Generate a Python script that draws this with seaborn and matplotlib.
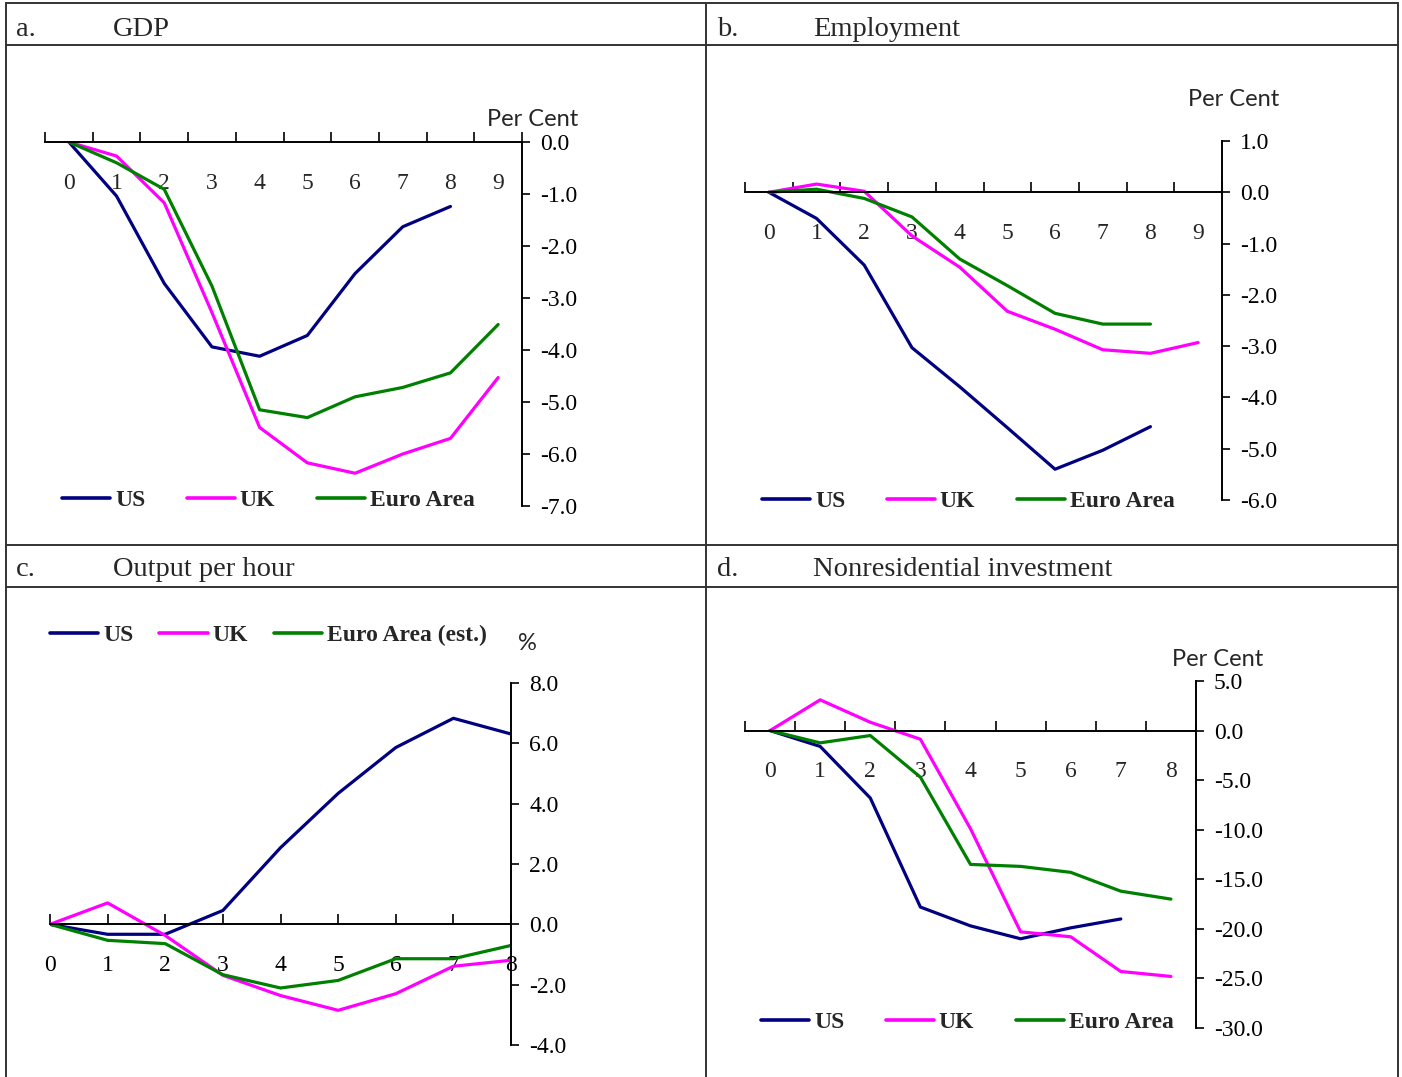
import matplotlib
matplotlib.use("Agg")
import matplotlib.pyplot as plt
from matplotlib.lines import Line2D
from matplotlib.ticker import FixedLocator, FormatStrFormatter
import seaborn as sns

# data
periods = list(range(10))
gdp_us = [0, -1.04, -2.72, -3.94, -4.12, -3.72, -2.53, -1.63, -1.24]
gdp_uk = [0, -0.27, -1.17, -3.28, -5.49, -6.17, -6.37, -6.0, -5.7, -4.53]
gdp_euro = [0, -0.40, -0.91, -2.77, -5.15, -5.30, -4.90, -4.72, -4.44, -3.51]

emp_us = [0, -0.51, -1.42, -3.03, -3.79, -4.59, -5.40, -5.03, -4.57]
emp_uk = [0, 0.16, 0.02, -0.85, -1.46, -2.32, -2.67, -3.07, -3.14, -2.93]
emp_euro = [0, 0.06, -0.12, -0.48, -1.30, -1.82, -2.36, -2.57, -2.57]

oph_us = [0, -0.33, -0.33, 0.46, 2.54, 4.34, 5.86, 6.83, 6.31]
oph_uk = [0, 0.71, -0.37, -1.69, -2.36, -2.85, -2.30, -1.39, -1.19]
oph_euro = [0, -0.53, -0.64, -1.67, -2.11, -1.86, -1.14, -1.14, -0.70]

inv_us = [0, -1.6, -6.8, -17.8, -19.7, -21.0, -19.9, -19.0]
inv_uk = [0, 3.1, 0.84, -0.87, -9.9, -20.3, -20.8, -24.3, -24.8]
inv_euro = [0, -1.24, -0.5, -4.7, -13.5, -13.7, -14.3, -16.2, -17.0]

colors = {"US": "#000080", "UK": "#FF00FF", "Euro": "#008000"}

sns.set_style("white")
plt.rcParams["axes.unicode_minus"] = False
SERIF = "Liberation Serif"
SANS = "Lato"

W, H = 1402, 1077
fig = plt.figure(figsize=(W / 100, H / 100), dpi=100)


def fx(px):
    return px / W


def fy(py):
    return 1 - py / H


# table borders
def hline(y, x0=6, x1=1398):
    fig.add_artist(Line2D([fx(x0), fx(x1)], [fy(y), fy(y)], color="#333333", lw=1.4))


def vline(x, y0=3, y1=1077):
    fig.add_artist(Line2D([fx(x), fx(x)], [fy(y0), fy(y1)], color="#333333", lw=1.4))


for y in [3, 45, 545, 587]:
    hline(y)
for x in [6, 706, 1398]:
    vline(x)

headers = [(16, 113, 36, "a.", "GDP"), (717, 813, 36, "b.", "Employment"),
           (16, 113, 576, "c.", "Output per hour"), (717, 813, 576, "d.", "Nonresidential investment")]
for xl, xt, yb, lab, title in headers:
    fig.text(fx(xl), fy(yb), lab, family=SERIF, fontsize=20.5, va="baseline")
    fig.text(fx(xt), fy(yb), title, family=SERIF, fontsize=20.5, va="baseline")


def make_panel(box, series, xlim, ylim, yticks, categorical, legend_pos, colspacing, labels):
    left, right, top, bottom = box
    ax = fig.add_axes([fx(left), fy(bottom), (right - left) / W, (bottom - top) / H])
    for (vals, key), lab in zip(series, labels):
        sns.lineplot(x=periods[:len(vals)], y=vals, color=colors[key], linewidth=2.3, ax=ax,
                     label=lab)
    ax.set_xlim(*xlim)
    ax.set_ylim(*ylim)
    for s in ["top", "left"]:
        ax.spines[s].set_visible(False)
    ax.spines["bottom"].set_position(("data", 0))
    ax.spines["bottom"].set_linewidth(1.4)
    ax.spines["right"].set_linewidth(1.4)
    ax.spines["bottom"].set_color("black")
    ax.spines["right"].set_color("black")
    ax.yaxis.tick_right()
    ax.set_yticks(yticks)
    ax.yaxis.set_major_formatter(FormatStrFormatter("%.1f"))
    ax.tick_params(axis="y", direction="out", length=6, width=1.2, pad=7, labelsize=17,
                   colors="black", right=True)
    n = int(round(xlim[1] - xlim[0]))
    if categorical:
        ax.xaxis.set_major_locator(FixedLocator([xlim[0] + i for i in range(n + 1)]))
        ax.xaxis.set_major_formatter(plt.NullFormatter())
        ax.set_xticks(periods[:n], minor=True)
        ax.set_xticklabels([str(p) for p in periods[:n]], minor=True)
        ax.tick_params(axis="x", which="major", direction="in", length=7, width=1.2,
                       bottom=True, colors="black")
        ax.tick_params(axis="x", which="minor", length=0, pad=22, labelsize=17, bottom=True)
    else:
        ax.set_xticks(periods[:n + 1])
        ax.tick_params(axis="x", direction="in", length=7, width=1.2, pad=22, labelsize=17,
                       bottom=True, colors="black")
    for t in ax.get_xticklabels(which="both") + ax.get_yticklabels():
        t.set_family(SERIF)
    ax.set_xlabel("")
    ax.set_ylabel("")
    ax.grid(False)
    handles = [Line2D([], [], color=colors[k], lw=2.6) for _, k in series]
    lx, ly = legend_pos
    ax.legend(handles, labels, ncol=3, frameon=False, loc="center left",
              bbox_to_anchor=(fx(lx), fy(ly)), bbox_transform=fig.transFigure,
              borderaxespad=0, borderpad=0, handlelength=2.05, handletextpad=0.2,
              columnspacing=colspacing,
              prop={"family": SERIF, "weight": "bold", "size": 17})
    return ax


make_panel((45, 522, 142, 506),
           [(gdp_us, "US"), (gdp_uk, "UK"), (gdp_euro, "Euro")],
           (-0.5, 9.5), (-7, 0), list(range(-7, 1)), True, (62, 500), 1.75,
           ["US", "UK", "Euro Area"])
make_panel((745, 1222, 141, 500),
           [(emp_us, "US"), (emp_uk, "UK"), (emp_euro, "Euro")],
           (-0.5, 9.5), (-6, 1), list(range(-6, 2)), True, (762, 501), 1.75,
           ["US", "UK", "Euro Area"])
make_panel((50, 511, 683, 1045),
           [(oph_us, "US"), (oph_uk, "UK"), (oph_euro, "Euro")],
           (0, 8), (-4, 8), list(range(-4, 9, 2)), False, (50, 635), 1.1,
           ["US", "UK", "Euro Area (est.)"])
make_panel((745, 1196, 681, 1028),
           [(inv_us, "US"), (inv_uk, "UK"), (inv_euro, "Euro")],
           (-0.5, 8.5), (-30, 5), list(range(-30, 6, 5)), True, (761, 1022), 1.75,
           ["US", "UK", "Euro Area"])

fig.text(fx(578), fy(120), "Per Cent", family=SANS, fontsize=17, ha="right", va="center")
fig.text(fx(1279), fy(100), "Per Cent", family=SANS, fontsize=17, ha="right", va="center")
fig.text(fx(1263), fy(659), "Per Cent", family=SANS, fontsize=17, ha="right", va="center")
fig.text(fx(527), fy(643), "%", family=SANS, fontsize=17, ha="center", va="center")

fig.savefig("out.png", dpi=100)
